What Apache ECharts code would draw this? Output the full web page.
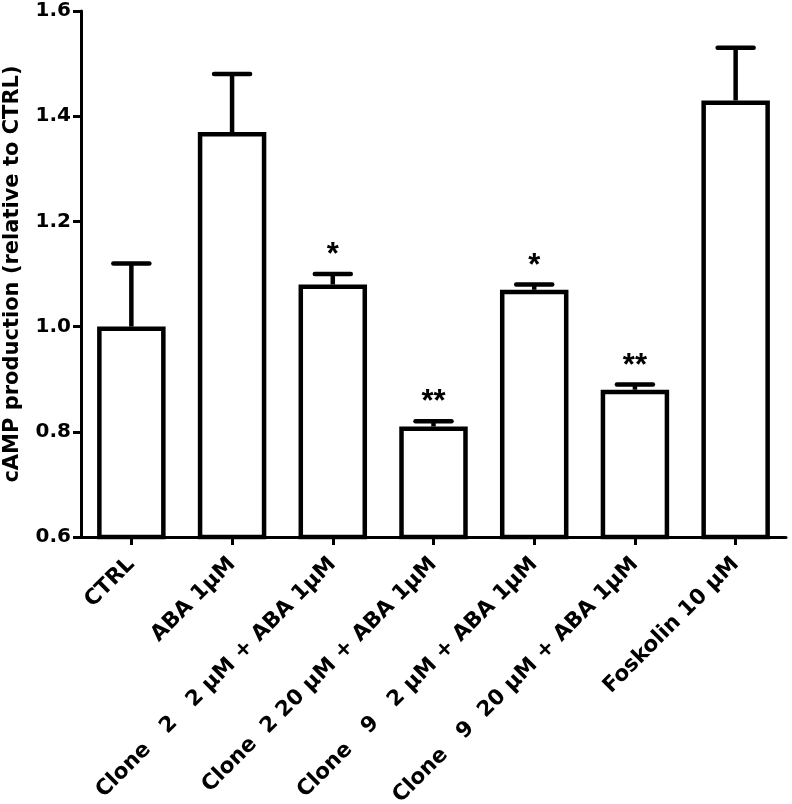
<!DOCTYPE html>
<html>
<head>
<meta charset="utf-8">
<script src="https://cdn.jsdelivr.net/npm/echarts@6/dist/echarts.min.js"></script>
<style>html,body{margin:0;padding:0;background:#fff}#c{width:792px;height:804px}</style>
</head>
<body>
<div id="c"></div>
<script>
const categories = ['CTRL', 'ABA 1\u03bcM', 'Clone   2   2 \u03bcM + ABA 1\u03bcM', 'Clone  2 20 \u03bcM + ABA 1\u03bcM', 'Clone   9   2 \u03bcM + ABA 1\u03bcM', 'Clone   9  20 \u03bcM + ABA 1\u03bcM', 'Foskolin 10 \u03bcM'];
const means = [1.00, 1.37, 1.08, 0.81, 1.07, 0.88, 1.43];
const errTops = [1.12, 1.48, 1.10, 0.82, 1.08, 0.89, 1.53];
const significance = ['', '', '*', '**', '*', '**', ''];
const yTicks = [0.6, 0.8, 1.0, 1.2, 1.4, 1.6];

const FONT = '"DejaVu Sans", sans-serif';
const STARFONT = '"Liberation Sans", Arial, sans-serif';
const chart = echarts.init(document.getElementById('c'), null, {renderer: 'canvas'});
chart.setOption({
  animation: false,
  backgroundColor: '#fff',
  grid: {left: 81, right: 6, top: 11, bottom: 267, containLabel: false, outerBoundsMode: 'none'},
  xAxis: {
    type: 'category',
    data: categories,
    axisLine: {lineStyle: {color: '#000', width: 3}},
    axisTick: {show: true, alignWithLabel: true, length: 8, lineStyle: {color: '#000', width: 3}},
    axisLabel: {rotate: 45, interval: 0, color: '#000', fontSize: 21.5, fontWeight: 'bold', fontFamily: FONT, margin: 24}
  },
  yAxis: {
    type: 'value',
    min: yTicks[0], max: yTicks[yTicks.length - 1], interval: 0.2,
    name: 'cAMP production (relative to CTRL)',
    nameLocation: 'middle', nameGap: 58,
    nameTextStyle: {color: '#000', fontSize: 21, fontWeight: 'bold', fontFamily: FONT},
    axisLine: {show: true, lineStyle: {color: '#000', width: 3}},
    axisTick: {show: true, length: 8, lineStyle: {color: '#000', width: 3}},
    splitLine: {show: false},
    axisLabel: {color: '#000', fontSize: 20, fontWeight: 'bold', fontFamily: FONT, margin: 10,
      formatter: v => v.toFixed(1)}
  },
  series: [
    {
      type: 'bar',
      data: means,
      barWidth: '68%',
      itemStyle: {color: '#fff', borderColor: '#000', borderWidth: 4.5},
      z: 2
    },
    {
      type: 'custom',
      data: categories.map((c, i) => [i, means[i], errTops[i], significance[i]]),
      renderItem: function (params, api) {
        const x = api.value(0);
        const base = api.coord([x, api.value(1)]);
        const top = api.coord([x, api.value(2)]);
        const half = 18;
        const children = [
          {type: 'line', shape: {x1: base[0], y1: base[1], x2: top[0], y2: top[1]}, style: {stroke: '#000', lineWidth: 4.5}},
          {type: 'line', shape: {x1: top[0] - half, y1: top[1], x2: top[0] + half, y2: top[1]}, style: {stroke: '#000', lineWidth: 4.5, lineCap: 'round'}}
        ];
        const sig = api.value(3);
        if (sig) {
          children.push({type: 'text', style: {text: sig, x: top[0], y: top[1] - 3, textAlign: 'center', textVerticalAlign: 'bottom', fill: '#000', font: 'bold 31px ' + STARFONT}});
        }
        return {type: 'group', children: children};
      },
      z: 3
    }
  ]
});
</script>
</body>
</html>
